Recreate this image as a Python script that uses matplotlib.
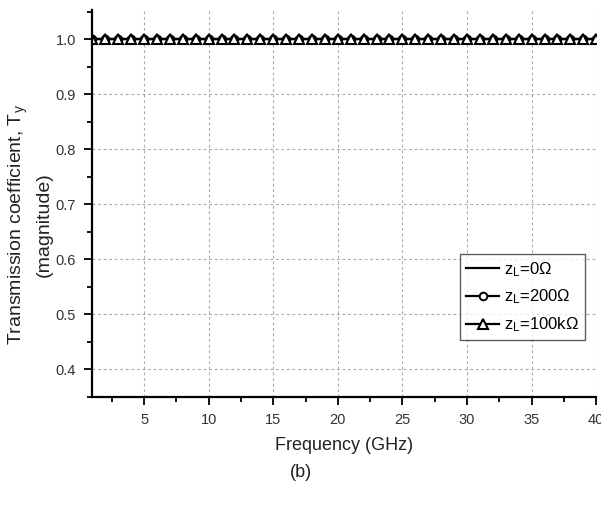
import matplotlib
matplotlib.use("Agg")
import matplotlib.pyplot as plt
from matplotlib.ticker import MultipleLocator

plt.rcParams['font.family'] = ['Liberation Sans', 'DejaVu Sans']
plt.rcParams['mathtext.fontset'] = 'custom'
plt.rcParams['mathtext.rm'] = 'Liberation Sans'
plt.rcParams['mathtext.it'] = 'Liberation Sans'

freq = list(range(1, 41))
t_z0 = [1.0] * 40
t_z200 = [1.0] * 40
t_z100k = [1.0] * 40
labels = [r"z$_\mathregular{L}$=0Ω", r"z$_\mathregular{L}$=200Ω", r"z$_\mathregular{L}$=100kΩ"]

fig = plt.figure(figsize=(6.01, 5.08), dpi=100)
ax = fig.add_axes([0.153, 0.2185, 0.839, 0.7615])

ax.plot(freq, t_z0, color='black', lw=1.6, label=labels[0])
ax.plot(freq, t_z200, color='black', lw=1.6, marker='o', ms=5.5, mfc='white', mew=1.4, label=labels[1])
ax.plot(freq, t_z100k, color='black', lw=1.6, marker='^', ms=7, mfc='white', mew=1.5, label=labels[2])

ax.set_xlim(0.97, 40)
ax.set_ylim(0.35, 1.053)
ax.xaxis.set_minor_locator(MultipleLocator(2.5))
ax.yaxis.set_minor_locator(MultipleLocator(0.05))
ax.set_xticks([5, 10, 15, 20, 25, 30, 35, 40])
ax.set_yticks([0.4, 0.5, 0.6, 0.7, 0.8, 0.9, 1.0])
ax.set_yticklabels(['0.4', '0.5', '0.6', '0.7', '0.8', '0.9', '1.0'])

ax.spines['top'].set_visible(False)
ax.spines['right'].set_visible(False)
ax.spines['left'].set_linewidth(1.6)
ax.spines['bottom'].set_linewidth(1.6)
ax.tick_params(which='major', direction='out', length=5.5, width=1.3, labelsize=10.5, colors='black',
               labelcolor='#333333', pad=6)
ax.tick_params(which='minor', direction='out', length=3.5, width=1.3)
ax.grid(True, which='major', linestyle=(0, (2.5, 2.5)), color='#aaaaaa', lw=0.8)
ax.set_axisbelow(True)

ax.set_xlabel("Frequency (GHz)", fontsize=13, color='#222222', labelpad=7)
ax.set_ylabel("Transmission coefficient, T$_\\mathregular{y}$\n(magnitude)", fontsize=14, color='#222222',
              linespacing=1.45)
ax.yaxis.set_label_coords(-0.077, 0.445)

leg = ax.legend(loc='lower right', bbox_to_anchor=(0.978, 0.147), borderaxespad=0, fontsize=12,
                frameon=True, fancybox=False, edgecolor='#333333', handlelength=2.0, borderpad=0.35,
                labelspacing=0.55, handletextpad=0.3)
leg.get_frame().set_linewidth(1.0)

fig.text(0.5, 0.062, "(b)", ha='center', fontsize=13, color='#222222')

fig.savefig("out.png", dpi=100)
